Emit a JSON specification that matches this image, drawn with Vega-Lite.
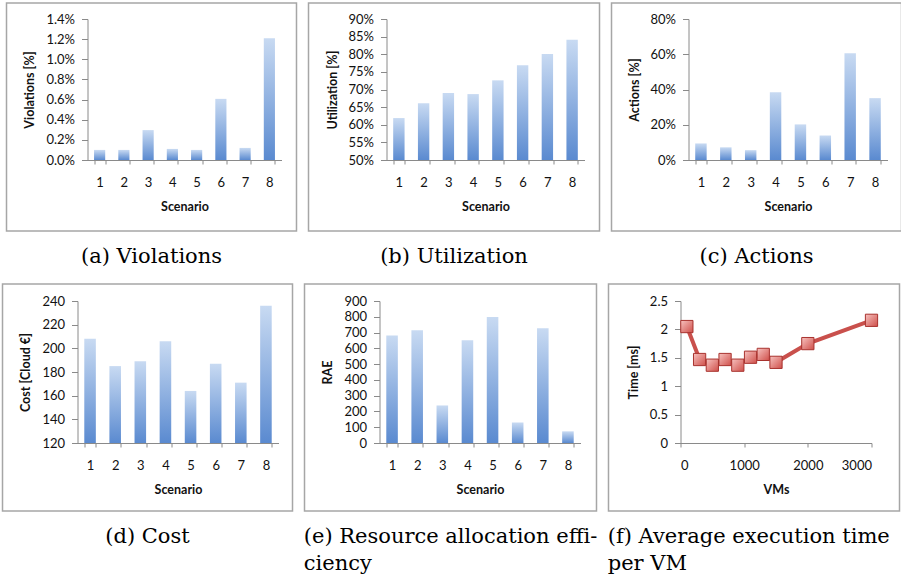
{
  "$schema": "https://vega.github.io/schema/vega-lite/v6.json",
  "background": "white",
  "padding": {"left": 0.5, "top": 2, "right": 0, "bottom": 0},
  "config": {
    "view": {"stroke": null},
    "font": "Lato",
    "title": {"font": "DejaVu Serif", "fontSize": 21, "fontWeight": "normal", "color": "#000000", "offset": 14, "lineHeight": 27, "orient": "bottom", "frame": "bounds"},
    "axis": {"labelFont": "Lato", "labelFontSize": 13, "labelColor": "#111111", "titleFont": "Lato", "titleFontSize": 12.5, "titleFontWeight": "bold", "titleColor": "#111111", "domainColor": "#8a8a8a", "tickColor": "#8a8a8a", "gridColor": "#8c8c8c", "gridOpacity": 1, "domainWidth": 1, "tickWidth": 1, "gridWidth": 1},
    "axisX": {"tickSize": 4, "labelPadding": 12, "titlePadding": 11, "labelAngle": 0, "grid": false},
    "axisY": {"tickSize": 6, "labelPadding": 7, "titlePadding": 9, "grid": true}
  },
  "spacing": 16,
  "vconcat": [
    {
      "spacing": 0,
      "hconcat": [
        {"width": 5, "height": 10, "data": {"values": [{}]}, "mark": {"type": "rect", "opacity": 0}, "encoding": {}},
        {
          "spacing": 10,
          "hconcat": [
            {
              "width": 194, "height": 141,
              "title": {"text": "(a) Violations", "anchor": "middle"},
              "layer": [
                {"data": {"values": [{}]}, "mark": {"type": "rect", "filled": false, "stroke": "#a6a6a6", "strokeWidth": 1.5},
                 "encoding": {"x": {"datum": -0.4175, "type": "quantitative", "scale": {"domain": [0, 1], "nice": false, "zero": false}, "axis": null}, "x2": {"datum": 1.0773},
                              "y": {"datum": 1.1135, "type": "quantitative", "scale": {"domain": [0, 1], "nice": false, "zero": false}, "axis": null}, "y2": {"datum": -0.5035}}},
                {"data": {"values": [{"scenario": 1, "v": 0.001}, {"scenario": 2, "v": 0.001}, {"scenario": 3, "v": 0.00297}, {"scenario": 4, "v": 0.0011}, {"scenario": 5, "v": 0.001}, {"scenario": 6, "v": 0.00607}, {"scenario": 7, "v": 0.0012}, {"scenario": 8, "v": 0.0121}]},
                 "mark": {"type": "bar", "color": {"gradient": "linear", "x1": 0, "y1": 0, "x2": 0, "y2": 1, "stops": [{"offset": 0, "color": "#c8daf2"}, {"offset": 1, "color": "#5a8ad0"}]}},
                 "encoding": {"x": {"field": "scenario", "type": "ordinal", "scale": {"paddingInner": 0.54, "paddingOuter": 0.27}, "axis": {"title": "Scenario", "tickBand": "extent"}},
                              "y": {"field": "v", "type": "quantitative", "scale": {"domain": [0, 0.014], "nice": false}, "axis": {"title": "Violations [%]", "format": ".1%", "values": [0, 0.002, 0.004, 0.006, 0.008, 0.01, 0.012, 0.014]}}}}
              ],
              "resolve": {"scale": {"x": "independent", "y": "independent"}}
            },
            {
              "width": 198, "height": 141,
              "title": {"text": "(b) Utilization", "anchor": "middle"},
              "layer": [
                {"data": {"values": [{}]}, "mark": {"type": "rect", "filled": false, "stroke": "#a6a6a6", "strokeWidth": 1.5},
                 "encoding": {"x": {"datum": -0.3939, "type": "quantitative", "scale": {"domain": [0, 1], "nice": false, "zero": false}, "axis": null}, "x2": {"datum": 1.0758},
                              "y": {"datum": 1.1135, "type": "quantitative", "scale": {"domain": [0, 1], "nice": false, "zero": false}, "axis": null}, "y2": {"datum": -0.5035}}},
                {"data": {"values": [{"scenario": 1, "v": 0.619}, {"scenario": 2, "v": 0.661}, {"scenario": 3, "v": 0.69}, {"scenario": 4, "v": 0.687}, {"scenario": 5, "v": 0.726}, {"scenario": 6, "v": 0.769}, {"scenario": 7, "v": 0.801}, {"scenario": 8, "v": 0.841}]},
                 "mark": {"type": "bar", "color": {"gradient": "linear", "x1": 0, "y1": 0, "x2": 0, "y2": 1, "stops": [{"offset": 0, "color": "#c8daf2"}, {"offset": 1, "color": "#5a8ad0"}]}},
                 "encoding": {"x": {"field": "scenario", "type": "ordinal", "scale": {"paddingInner": 0.54, "paddingOuter": 0.27}, "axis": {"title": "Scenario", "tickBand": "extent"}},
                              "y": {"field": "v", "type": "quantitative", "scale": {"domain": [0.5, 0.9], "nice": false, "zero": false}, "axis": {"title": "Utilization [%]", "format": ".0%", "values": [0.5, 0.55, 0.6, 0.65, 0.7, 0.75, 0.8, 0.85, 0.9]}},
                              "y2": {"datum": 0.5}}}
              ],
              "resolve": {"scale": {"x": "independent", "y": "independent"}}
            },
            {
              "width": 199, "height": 141,
              "title": {"text": "(c) Actions", "anchor": "middle"},
              "layer": [
                {"data": {"values": [{}]}, "mark": {"type": "rect", "filled": false, "stroke": "#a6a6a6", "strokeWidth": 1.5},
                 "encoding": {"x": {"datum": -0.3869, "type": "quantitative", "scale": {"domain": [0, 1], "nice": false, "zero": false}, "axis": null}, "x2": {"datum": 1.0704},
                              "y": {"datum": 1.1135, "type": "quantitative", "scale": {"domain": [0, 1], "nice": false, "zero": false}, "axis": null}, "y2": {"datum": -0.5035}}},
                {"data": {"values": [{"scenario": 1, "v": 0.094}, {"scenario": 2, "v": 0.072}, {"scenario": 3, "v": 0.056}, {"scenario": 4, "v": 0.385}, {"scenario": 5, "v": 0.202}, {"scenario": 6, "v": 0.139}, {"scenario": 7, "v": 0.606}, {"scenario": 8, "v": 0.351}]},
                 "mark": {"type": "bar", "color": {"gradient": "linear", "x1": 0, "y1": 0, "x2": 0, "y2": 1, "stops": [{"offset": 0, "color": "#c8daf2"}, {"offset": 1, "color": "#5a8ad0"}]}},
                 "encoding": {"x": {"field": "scenario", "type": "ordinal", "scale": {"paddingInner": 0.54, "paddingOuter": 0.27}, "axis": {"title": "Scenario", "tickBand": "extent"}},
                              "y": {"field": "v", "type": "quantitative", "scale": {"domain": [0, 0.8], "nice": false}, "axis": {"title": "Actions [%]", "format": ".0%", "values": [0, 0.2, 0.4, 0.6, 0.8]}}}}
              ],
              "resolve": {"scale": {"x": "independent", "y": "independent"}}
            }
          ]
        }
      ]
    },
    {
      "spacing": 0,
      "hconcat": [
        {"width": 1, "height": 10, "data": {"values": [{}]}, "mark": {"type": "rect", "opacity": 0}, "encoding": {}},
        {
          "spacing": 10,
          "hconcat": [
            {
              "width": 201, "height": 142,
              "title": {"text": "(d) Cost", "anchor": "middle"},
              "layer": [
                {"data": {"values": [{}]}, "mark": {"type": "rect", "filled": false, "stroke": "#a6a6a6", "strokeWidth": 1.5},
                 "encoding": {"x": {"datum": -0.3731, "type": "quantitative", "scale": {"domain": [0, 1], "nice": false, "zero": false}, "axis": null}, "x2": {"datum": 1.0697},
                              "y": {"datum": 1.1197, "type": "quantitative", "scale": {"domain": [0, 1], "nice": false, "zero": false}, "axis": null}, "y2": {"datum": -0.4789}}},
                {"data": {"values": [{"scenario": 1, "v": 208}, {"scenario": 2, "v": 185}, {"scenario": 3, "v": 189}, {"scenario": 4, "v": 206}, {"scenario": 5, "v": 164}, {"scenario": 6, "v": 187}, {"scenario": 7, "v": 171}, {"scenario": 8, "v": 236}]},
                 "mark": {"type": "bar", "color": {"gradient": "linear", "x1": 0, "y1": 0, "x2": 0, "y2": 1, "stops": [{"offset": 0, "color": "#c8daf2"}, {"offset": 1, "color": "#5a8ad0"}]}},
                 "encoding": {"x": {"field": "scenario", "type": "ordinal", "scale": {"paddingInner": 0.54, "paddingOuter": 0.27}, "axis": {"title": "Scenario", "tickBand": "extent"}},
                              "y": {"field": "v", "type": "quantitative", "scale": {"domain": [120, 240], "nice": false, "zero": false}, "axis": {"title": "Cost [Cloud €]", "values": [120, 140, 160, 180, 200, 220, 240]}},
                              "y2": {"datum": 120}}}
              ],
              "resolve": {"scale": {"x": "independent", "y": "independent"}}
            },
            {
              "width": 201, "height": 142,
              "title": {"text": ["(e) Resource allocation effi-", "ciency"], "anchor": "start"},
              "layer": [
                {"data": {"values": [{}]}, "mark": {"type": "rect", "filled": false, "stroke": "#a6a6a6", "strokeWidth": 1.5},
                 "encoding": {"x": {"datum": -0.3731, "type": "quantitative", "scale": {"domain": [0, 1], "nice": false, "zero": false}, "axis": null}, "x2": {"datum": 1.0796},
                              "y": {"datum": 1.1197, "type": "quantitative", "scale": {"domain": [0, 1], "nice": false, "zero": false}, "axis": null}, "y2": {"datum": -0.4789}}},
                {"data": {"values": [{"scenario": 1, "v": 682}, {"scenario": 2, "v": 714}, {"scenario": 3, "v": 238}, {"scenario": 4, "v": 652}, {"scenario": 5, "v": 798}, {"scenario": 6, "v": 130}, {"scenario": 7, "v": 727}, {"scenario": 8, "v": 74}]},
                 "mark": {"type": "bar", "color": {"gradient": "linear", "x1": 0, "y1": 0, "x2": 0, "y2": 1, "stops": [{"offset": 0, "color": "#c8daf2"}, {"offset": 1, "color": "#5a8ad0"}]}},
                 "encoding": {"x": {"field": "scenario", "type": "ordinal", "scale": {"paddingInner": 0.54, "paddingOuter": 0.27}, "axis": {"title": "Scenario", "tickBand": "extent"}},
                              "y": {"field": "v", "type": "quantitative", "scale": {"domain": [0, 900], "nice": false}, "axis": {"title": "RAE", "values": [0, 100, 200, 300, 400, 500, 600, 700, 800, 900]}}}}
              ],
              "resolve": {"scale": {"x": "independent", "y": "independent"}}
            },
            {
              "width": 191, "height": 142,
              "title": {"text": ["(f) Average execution time", "per VM"], "anchor": "start"},
              "layer": [
                {"data": {"values": [{}]}, "mark": {"type": "rect", "filled": false, "stroke": "#a6a6a6", "strokeWidth": 1.5},
                 "encoding": {"x": {"datum": -0.377, "type": "quantitative", "scale": {"domain": [0, 1], "nice": false, "zero": false}, "axis": null}, "x2": {"datum": 1.1466},
                              "y": {"datum": 1.1197, "type": "quantitative", "scale": {"domain": [0, 1], "nice": false, "zero": false}, "axis": null}, "y2": {"datum": -0.4789}}},
                {
                  "data": {"values": [{"vms": 100, "t": 2.05}, {"vms": 300, "t": 1.47}, {"vms": 500, "t": 1.37}, {"vms": 700, "t": 1.47}, {"vms": 900, "t": 1.37}, {"vms": 1100, "t": 1.51}, {"vms": 1300, "t": 1.56}, {"vms": 1500, "t": 1.42}, {"vms": 2000, "t": 1.75}, {"vms": 3000, "t": 2.16}]},
                  "encoding": {"x": {"field": "vms", "type": "quantitative", "scale": {"domain": [0, 3000], "nice": false}, "axis": {"title": "VMs", "format": "d", "values": [0, 1000, 2000, 3000]}},
                               "y": {"field": "t", "type": "quantitative", "scale": {"domain": [0, 2.5], "nice": false}, "axis": {"title": "Time [ms]", "format": ".1~f", "values": [0, 0.5, 1, 1.5, 2, 2.5]}}},
                  "layer": [
                    {"mark": {"type": "line", "color": "#c9504c", "strokeWidth": 4}},
                    {"mark": {"type": "point", "shape": "square", "size": 150, "filled": true, "opacity": 1, "strokeWidth": 1, "stroke": "#a8322e", "fill": {"gradient": "linear", "x1": 0, "y1": 0, "x2": 1, "y2": 1, "stops": [{"offset": 0, "color": "#f7c2bf"}, {"offset": 1, "color": "#cf4f4a"}]}}}
                  ]
                }
              ],
              "resolve": {"scale": {"x": "independent", "y": "independent"}}
            }
          ]
        }
      ]
    }
  ]
}
